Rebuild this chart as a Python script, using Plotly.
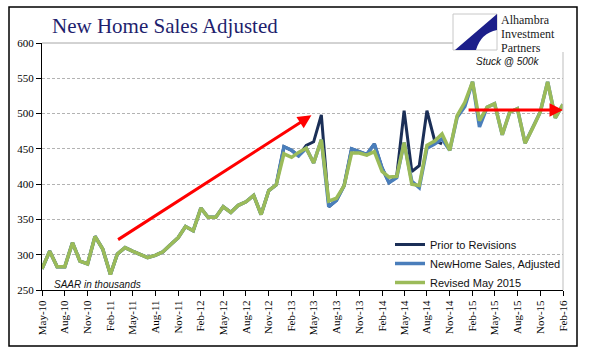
import pandas as pd
import plotly.graph_objects as go

# ---------------- data ----------------
dates = pd.date_range("2010-05-01", periods=70, freq="MS")

revised_may_2015 = [
    280, 305, 283, 283, 317, 291, 287, 326, 308, 272,
    301, 310, 305, 301, 296, 299, 304, 314, 324, 340,
    334, 366, 353, 353, 368, 360, 370, 375, 384, 357,
    391, 399, 443, 438, 445, 451, 430, 463, 376, 380,
    398, 444, 444, 441, 446, 418, 410, 411, 459, 400,
    398, 455, 461, 471, 448, 497, 516, 545, 490, 509,
    514, 470, 502, 507, 458, 479, 502, 545, 494, 513,
]

new_home_sales_adjusted = [
    280, 305, 283, 283, 317, 291, 287, 326, 308, 272,
    301, 310, 305, 301, 296, 299, 304, 314, 324, 340,
    334, 366, 353, 353, 368, 360, 370, 375, 384, 357,
    391, 399, 453, 448, 440, 451, 430, 463, 368, 377,
    398, 450, 446, 442, 457, 423, 402, 409, 459, 404,
    395, 451, 457, 464, 448, 495, 510, 545, 481, 509,
    514, 470, 502, 507, 458, 479, 502, 545, 494, 513,
]

prior_to_revisions = [
    280, 305, 283, 283, 317, 291, 287, 326, 308, 272,
    301, 310, 305, 301, 296, 299, 304, 314, 324, 340,
    334, 366, 353, 353, 368, 360, 370, 375, 384, 357,
    391, 399, 453, 448, 440, 455, 460, 498, 368, 377,
    398, 450, 446, 442, 457, 423, 402, 411, 504, 418,
    426, 504, 462, 457, None, None, None, None, None, None,
    None, None, None, None, None, None, None, None, None, None,
]

tick_dates = dates[::3]
tick_labels = [d.strftime("%b-%y") for d in tick_dates]

# arrows (tail -> head) in data coordinates
arrow_up_tail = ("2011-02-26", 320)
arrow_up_head = ("2013-04-22", 497.5)
arrow_flat_tail = ("2015-01-10", 505)
arrow_flat_head = ("2016-02-01", 505)

# ---------------- figure ----------------
fig = go.Figure()
fig.add_trace(go.Scatter(x=dates, y=prior_to_revisions, mode="lines",
                         name="Prior to Revisions",
                         line=dict(color="#1b2f57", width=3)))
fig.add_trace(go.Scatter(x=dates, y=new_home_sales_adjusted, mode="lines",
                         name="NewHome Sales, Adjusted",
                         line=dict(color="#4a7ebb", width=3.5)))
fig.add_trace(go.Scatter(x=dates, y=revised_may_2015, mode="lines",
                         name="Revised May 2015",
                         line=dict(color="#9bbb59", width=3.5)))

L, R, T, B = 42, 33, 43, 71
W, H = 596, 361
PW, PH = W - L - R, H - T - B


def px(X):
    return (X - L) / PW


def py(Y):
    return (H - B - Y) / PH


shapes = [
    # outer frame
    dict(type="rect", xref="paper", yref="paper", x0=px(9), x1=px(577),
         y0=py(346), y1=py(7), line=dict(color="black", width=1.5),
         fillcolor="rgba(0,0,0,0)", layer="below"),
    # right border of plot area
    dict(type="line", xref="paper", yref="paper", x0=1, x1=1, y0=0, y1=py(52),
         line=dict(color="#bdbdbd", width=1)),
    # solid top grid line
    dict(type="line", xref="paper", yref="paper", x0=0, x1=px(453), y0=1, y1=1,
         line=dict(color="#a6a6a6", width=1)),
    # logo background
    dict(type="rect", xref="paper", yref="paper", x0=px(453), x1=px(570),
         y0=py(52), y1=py(9), fillcolor="white", line=dict(width=0), layer="above"),
    # logo square
    dict(type="rect", xref="paper", yref="paper", x0=px(453), x1=px(497),
         y0=py(50), y1=py(14), fillcolor="white",
         line=dict(color="#c8c8c8", width=1), layer="above"),
    # logo blue wedge
    dict(type="path", xref="paper", yref="paper", layer="above",
         path=(f"M {px(497)},{py(14)} L {px(455)},{py(50)} L {px(476)},{py(50)} "
               f"Q {px(481)},{py(33)} {px(497)},{py(30)} Z"),
         fillcolor="#1c1f8a", line=dict(width=0)),
]

logo_font = dict(family="Liberation Serif", size=12, color="#1a1a1a")
annotations = [
    dict(text="New Home Sales Adjusted", xref="paper", yref="paper",
         x=px(165), y=py(26), showarrow=False, xanchor="center", yanchor="middle",
         font=dict(family="Liberation Serif", size=21, color="#1f1f6e")),
    dict(text="Alhambra", xref="paper", yref="paper", x=px(499), y=py(20.5),
         showarrow=False, xanchor="left", yanchor="middle", font=logo_font),
    dict(text="Investment", xref="paper", yref="paper", x=px(499), y=py(34),
         showarrow=False, xanchor="left", yanchor="middle", font=logo_font),
    dict(text="Partners", xref="paper", yref="paper", x=px(499), y=py(47.5),
         showarrow=False, xanchor="left", yanchor="middle", font=logo_font),
    dict(text="<i>Stuck @ 500k</i>", xref="paper", yref="paper", x=px(507), y=py(61),
         showarrow=False, xanchor="center", yanchor="middle",
         font=dict(family="Liberation Sans", size=10, color="#111")),
    dict(text="<i>SAAR in thousands</i>", xref="paper", yref="paper", x=px(52), y=py(284),
         showarrow=False, xanchor="left", yanchor="middle",
         font=dict(family="Liberation Sans", size=10, color="#111")),
    dict(text="", x=arrow_up_head[0], y=arrow_up_head[1],
         ax=arrow_up_tail[0], ay=arrow_up_tail[1], xref="x", yref="y",
         axref="x", ayref="y", showarrow=True, arrowhead=2, arrowsize=0.9,
         arrowwidth=3, arrowcolor="#ff0000"),
    dict(text="", x=arrow_flat_head[0], y=arrow_flat_head[1],
         ax=arrow_flat_tail[0], ay=arrow_flat_tail[1], xref="x", yref="y",
         axref="x", ayref="y", showarrow=True, arrowhead=2, arrowsize=0.9,
         arrowwidth=3, arrowcolor="#ff0000"),
]

fig.update_layout(
    width=W, height=H,
    margin=dict(l=L, r=R, t=T, b=B),
    paper_bgcolor="white", plot_bgcolor="white",
    showlegend=True,
    legend=dict(x=px(390), y=py(230), xanchor="left", yanchor="top",
                bgcolor="rgba(0,0,0,0)", borderwidth=0,
                font=dict(family="Liberation Sans", size=11, color="#111"),
                tracegroupgap=0),
    shapes=shapes,
    annotations=annotations,
)

fig.update_xaxes(
    type="date", range=[dates[0], dates[-1]],
    tickvals=list(tick_dates), ticktext=tick_labels, tickangle=-90,
    showgrid=False, showline=True, linecolor="black", linewidth=1,
    ticks="outside", ticklen=5, tickcolor="black",
    tickfont=dict(family="Liberation Serif", size=11, color="black"),
    zeroline=False, automargin=False,
)
fig.update_yaxes(
    range=[250, 600], dtick=50, tick0=250,
    showgrid=True, gridcolor="#b3b3b3", griddash="3px,2px", gridwidth=1,
    showline=True, linecolor="black", linewidth=1,
    ticks="outside", ticklen=5, tickcolor="black",
    tickfont=dict(family="Liberation Serif", size=11, color="black"),
    zeroline=False, automargin=False,
)

fig.write_html("out.html",
               config={"displayModeBar": False},
               post_script="document.body.style.margin='0px';document.body.style.overflow='hidden';")
